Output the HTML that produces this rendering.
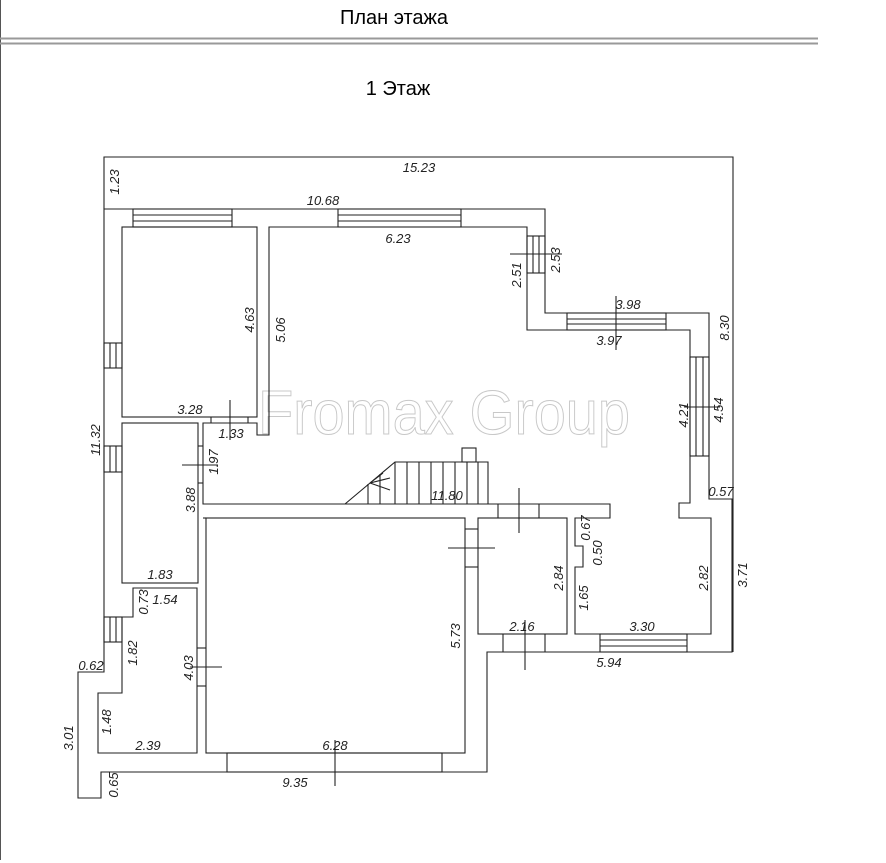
<!DOCTYPE html>
<html><head><meta charset="utf-8"><style>
html,body{margin:0;padding:0;background:#fff;}
svg{display:block}
.t{font-family:"Liberation Sans","DejaVu Sans",sans-serif;font-style:italic;font-size:13px;fill:#222}
.h{font-family:"Liberation Sans","DejaVu Sans",sans-serif;font-size:20px;fill:#000}
</style></head><body>
<svg width="886" height="863" viewBox="0 0 886 863" xmlns="http://www.w3.org/2000/svg">
<line x1="0.5" y1="0" x2="0.5" y2="860" stroke="#555" stroke-width="1"/>
<line x1="0" y1="38.5" x2="818" y2="38.5" stroke="#999" stroke-width="2"/>
<line x1="0" y1="43.5" x2="818" y2="43.5" stroke="#999" stroke-width="2"/>
<text class="h" x="394" y="24" text-anchor="middle">План этажа</text>
<text class="h" x="398" y="95" text-anchor="middle">1 Этаж</text>

<text x="258" y="434" textLength="372" lengthAdjust="spacingAndGlyphs" font-family="Liberation Sans, sans-serif" font-size="62" fill="none" stroke="#c8c8c8" stroke-width="1">Fromax Group</text>

<g fill="none" stroke="#222" stroke-width="1.1">
<!-- frame -->
<polyline points="104,209 104,157 733,157 733,652"/>
<!-- outer -->
<polygon points="104,209 545,209 545,313 709,313 709,499 732,499 732,652 487,652 487,772 101,772 101,798 78,798 78,672 104,672"/>
<!-- rooms -->
<rect x="122" y="227" width="135" height="190"/>
<polygon points="269,227 527,227 527,330 690,330 690,503 679,503 679,518 711,518 711,634 575,634 575,567 583,567 583,546 575,546 575,518 610,518 610,504 203,504 203,423 257,423 257,435 269,435"/>
<rect x="122" y="423" width="76" height="160"/>
<polygon points="133,588 197,588 197,753 98,753 98,693 122,693 122,617 133,617"/>
<rect x="206" y="518" width="259" height="235"/>
<rect x="478" y="518" width="89" height="116"/>
<line x1="203" y1="518" x2="206" y2="518"/>
<!-- windows -->
<g>
<rect x="133" y="209" width="99" height="18"/><line x1="133" y1="215" x2="232" y2="215"/><line x1="133" y1="221" x2="232" y2="221"/>
<rect x="338" y="209" width="123" height="18"/><line x1="338" y1="215" x2="461" y2="215"/><line x1="338" y1="221" x2="461" y2="221"/>
<rect x="527" y="236" width="18" height="37"/><line x1="533" y1="236" x2="533" y2="273"/><line x1="539" y1="236" x2="539" y2="273"/>
<rect x="567" y="313" width="99" height="17"/><line x1="567" y1="319" x2="666" y2="319"/><line x1="567" y1="324" x2="666" y2="324"/>
<rect x="690" y="357" width="19" height="99"/><line x1="696" y1="357" x2="696" y2="456"/><line x1="703" y1="357" x2="703" y2="456"/>
<rect x="104" y="343" width="18" height="25"/><line x1="110" y1="343" x2="110" y2="368"/><line x1="116" y1="343" x2="116" y2="368"/>
<rect x="104" y="446" width="18" height="26"/><line x1="110" y1="446" x2="110" y2="472"/><line x1="116" y1="446" x2="116" y2="472"/>
<rect x="104" y="617" width="18" height="25"/><line x1="110" y1="617" x2="110" y2="642"/><line x1="116" y1="617" x2="116" y2="642"/>
<rect x="600" y="634" width="87" height="18"/><line x1="600" y1="640" x2="687" y2="640"/><line x1="600" y1="646" x2="687" y2="646"/>
<rect x="227" y="753" width="215" height="19"/>
</g>
<!-- doors -->
<line x1="211" y1="417" x2="211" y2="423"/><line x1="248" y1="417" x2="248" y2="423"/>
<line x1="198" y1="446" x2="203" y2="446"/><line x1="198" y1="483" x2="203" y2="483"/>
<line x1="197" y1="648" x2="206" y2="648"/><line x1="197" y1="686" x2="206" y2="686"/>
<line x1="498" y1="504" x2="498" y2="518"/><line x1="539" y1="504" x2="539" y2="518"/>
<line x1="465" y1="529" x2="478" y2="529"/><line x1="465" y1="567" x2="478" y2="567"/>
<line x1="503" y1="634" x2="503" y2="652"/><line x1="545" y1="634" x2="545" y2="652"/>
<!-- ticks -->
<line x1="230" y1="400" x2="230" y2="440"/>
<line x1="182" y1="465" x2="218" y2="465"/>
<line x1="190" y1="667" x2="222" y2="667"/>
<line x1="519" y1="488" x2="519" y2="533"/>
<line x1="448" y1="548" x2="495" y2="548"/>
<line x1="525" y1="620" x2="525" y2="670"/>
<line x1="335" y1="740" x2="335" y2="786"/>
<line x1="510" y1="254" x2="562" y2="254"/>
<line x1="616" y1="296" x2="616" y2="350"/>
<line x1="684" y1="407" x2="720" y2="407"/>
<line x1="709" y1="499" x2="733" y2="499"/>
<!-- stairs -->
<polyline points="345,504 395,462 488,462 488,504"/>
<rect x="462" y="448" width="14" height="14"/>
<g>
<line x1="368" y1="484" x2="368" y2="504"/><line x1="380" y1="474" x2="380" y2="504"/>
<line x1="395" y1="462" x2="395" y2="504"/><line x1="407" y1="462" x2="407" y2="504"/>
<line x1="419" y1="462" x2="419" y2="504"/><line x1="431" y1="462" x2="431" y2="504"/>
<line x1="443" y1="462" x2="443" y2="504"/><line x1="455" y1="462" x2="455" y2="504"/>
<line x1="467" y1="462" x2="467" y2="504"/><line x1="478" y1="462" x2="478" y2="504"/>
<line x1="370" y1="483" x2="390" y2="478"/><line x1="370" y1="483" x2="390" y2="490"/><line x1="370" y1="483" x2="383" y2="473"/>
</g>
</g>

<g class="t">
<text x="419" y="172" text-anchor="middle">15.23</text>
<text x="323" y="205" text-anchor="middle">10.68</text>
<text x="398" y="243" text-anchor="middle">6.23</text>
<text x="628" y="309" text-anchor="middle">3.98</text>
<text x="609" y="345" text-anchor="middle">3.97</text>
<text x="190" y="414" text-anchor="middle">3.28</text>
<text x="231" y="438" text-anchor="middle">1.33</text>
<text x="447" y="500" text-anchor="middle">11.80</text>
<text x="721" y="496" text-anchor="middle">0.57</text>
<text x="160" y="579" text-anchor="middle">1.83</text>
<text x="165" y="604" text-anchor="middle">1.54</text>
<text x="522" y="631" text-anchor="middle">2.16</text>
<text x="642" y="631" text-anchor="middle">3.30</text>
<text x="609" y="667" text-anchor="middle">5.94</text>
<text x="91" y="670" text-anchor="middle">0.62</text>
<text x="148" y="750" text-anchor="middle">2.39</text>
<text x="335" y="750" text-anchor="middle">6.28</text>
<text x="295" y="787" text-anchor="middle">9.35</text>
<g>
<text transform="translate(119,182) rotate(-90)" text-anchor="middle">1.23</text>
<text transform="translate(521,275) rotate(-90)" text-anchor="middle">2.51</text>
<text transform="translate(560,260) rotate(-90)" text-anchor="middle">2.53</text>
<text transform="translate(729,328) rotate(-90)" text-anchor="middle">8.30</text>
<text transform="translate(254,320) rotate(-90)" text-anchor="middle">4.63</text>
<text transform="translate(285,330) rotate(-90)" text-anchor="middle">5.06</text>
<text transform="translate(688,415) rotate(-90)" text-anchor="middle">4.21</text>
<text transform="translate(723,410) rotate(-90)" text-anchor="middle">4.54</text>
<text transform="translate(100,440) rotate(-90)" text-anchor="middle">11.32</text>
<text transform="translate(218,462) rotate(-90)" text-anchor="middle">1.97</text>
<text transform="translate(195,500) rotate(-90)" text-anchor="middle">3.88</text>
<text transform="translate(590,528) rotate(-90)" text-anchor="middle">0.67</text>
<text transform="translate(602,553) rotate(-90)" text-anchor="middle">0.50</text>
<text transform="translate(563,578) rotate(-90)" text-anchor="middle">2.84</text>
<text transform="translate(708,578) rotate(-90)" text-anchor="middle">2.82</text>
<text transform="translate(747,575) rotate(-90)" text-anchor="middle">3.71</text>
<text transform="translate(148,602) rotate(-90)" text-anchor="middle">0.73</text>
<text transform="translate(588,598) rotate(-90)" text-anchor="middle">1.65</text>
<text transform="translate(460,636) rotate(-90)" text-anchor="middle">5.73</text>
<text transform="translate(137,653) rotate(-90)" text-anchor="middle">1.82</text>
<text transform="translate(193,668) rotate(-90)" text-anchor="middle">4.03</text>
<text transform="translate(111,722) rotate(-90)" text-anchor="middle">1.48</text>
<text transform="translate(73,738) rotate(-90)" text-anchor="middle">3.01</text>
<text transform="translate(118,785) rotate(-90)" text-anchor="middle">0.65</text>
</g>
</g>
</svg>
</body></html>
